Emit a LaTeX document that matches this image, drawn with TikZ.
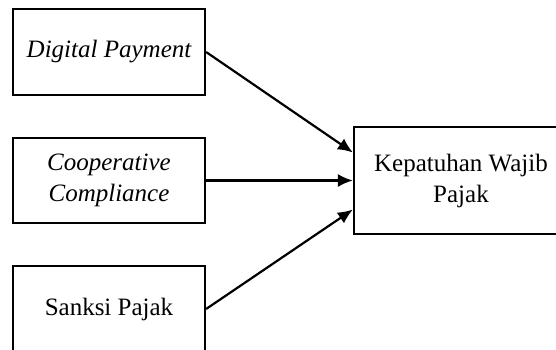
\documentclass[tikz,border=0pt]{standalone}
\usepackage{fontspec}
\setmainfont{Liberation Serif}
\usetikzlibrary{arrows.meta}
\begin{document}
\begin{tikzpicture}[x=1pt,y=-1pt,
  box/.style={draw, line width=2.2pt, rectangle, inner sep=0pt, align=center,
    font=\fontsize{25}{31}\selectfont},
  conn/.style={line width=2.2pt, -{Latex[length=15pt,width=13pt]}}]
\useasboundingbox (0,0) rectangle (556,349);
\clip (0,0) rectangle (556,349);
\fill[white] (0,0) rectangle (556,349);
\node[box, minimum width=192pt, minimum height=86pt] (dp) at (109,52) {\itshape Digital Payment};
\node[box, minimum width=192pt, minimum height=85pt] (cc) at (109,180.5) {\itshape Cooperative\\\itshape Compliance};
\node[box, minimum width=192pt, minimum height=86pt] (sp) at (109,309) {Sanksi Pajak};
\node[box, minimum width=214pt, minimum height=107pt] (kw) at (461,180.5) {Kepatuhan Wajib\\Pajak};
\draw[conn] (dp.east) -- ([yshift=28pt]kw.west);
\draw[conn] (cc.east) -- (kw.west);
\draw[conn] (sp.east) -- ([yshift=-29pt]kw.west);
\end{tikzpicture}
\end{document}
